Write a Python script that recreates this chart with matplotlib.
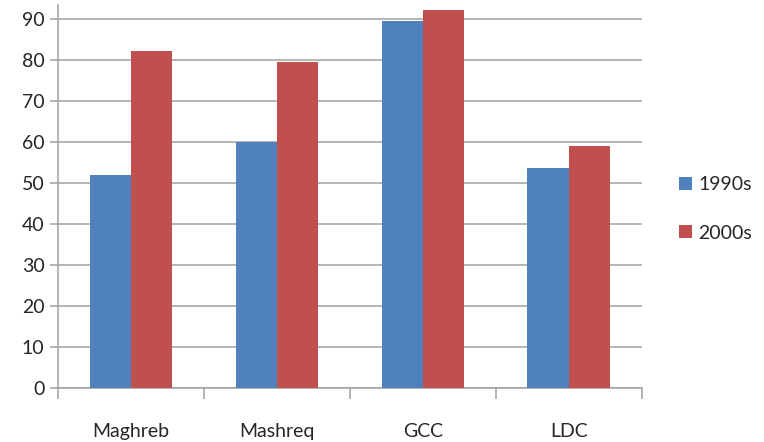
import matplotlib
matplotlib.use("Agg")
import matplotlib.pyplot as plt
import numpy as np

categories = ["Maghreb", "Mashreq", "GCC", "LDC"]
series_names = ["1990s", "2000s"]
values_1990s = [52, 60, 89.5, 53.7]
values_2000s = [82, 79.5, 92, 59]
colors = ["#4F81BD", "#C0504D"]
y_ticks = [0, 10, 20, 30, 40, 50, 60, 70, 80, 90]

plt.rcParams['font.family'] = ['Lato', 'DejaVu Sans']

fig = plt.figure(figsize=(7.64, 4.42), dpi=100)
ax = fig.add_axes([58.3/764, 1-388.3/442, (641.5-58.3)/764, (388.3-5)/442])

x = np.arange(len(categories))
w = 0.283
ax.bar(x - w/2, values_1990s, width=w, color=colors[0], label=series_names[0], zorder=3)
ax.bar(x + w/2, values_2000s, width=w, color=colors[1], label=series_names[1], zorder=3)

ax.set_xlim(-0.5, len(categories) - 0.5)
ax.set_ylim(0, 93.3)
ax.set_yticks(y_ticks)
ax.set_yticklabels([str(t) for t in y_ticks])
ax.yaxis.grid(True, color="#a0a0a0", linewidth=1.1, zorder=0)
ax.set_axisbelow(True)

ax.set_xticks(x)
ax.set_xticklabels(categories)
ax.set_xticks(np.arange(-0.5, len(categories)), minor=True)
ax.tick_params(axis='x', which='major', length=0, pad=25, labelsize=14, labelcolor="#262626")
ax.tick_params(axis='x', which='minor', length=8, width=1.1, color="#a0a0a0", direction='out')
ax.tick_params(axis='y', length=6, width=1.1, color="#a0a0a0", labelsize=14, labelcolor="#262626", pad=4)

for s in ["top", "right"]:
    ax.spines[s].set_visible(False)
for s in ["left", "bottom"]:
    ax.spines[s].set_color("#a0a0a0")
    ax.spines[s].set_linewidth(1.1)

fig.legend(loc="center left", bbox_to_anchor=(679/764, 1-209/442), frameon=False,
           fontsize=14, handlelength=0.65, handleheight=0.65, handletextpad=0.35,
           labelspacing=1.6, labelcolor="#262626", borderpad=0, borderaxespad=0)

fig.savefig("out.png", dpi=100)
